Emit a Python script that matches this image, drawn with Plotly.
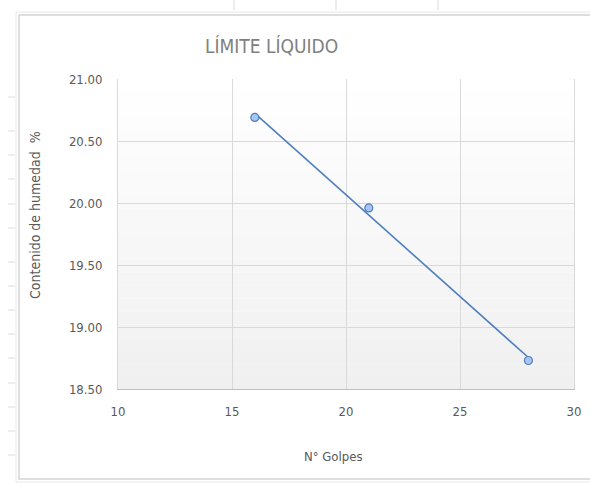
import numpy as np
import plotly.graph_objects as go

# Data
golpes = [16, 21, 28]
humedad = [20.69, 19.96, 18.73]

title_text = "LÍMITE LÍQUIDO"
x_title = "N° Golpes"
y_title = "Contenido de humedad  %"
x_ticks = [10, 15, 20, 25, 30]
y_ticks = [18.5, 19.0, 19.5, 20.0, 20.5, 21.0]

FONT = "Liberation Sans Narrow, DejaVu Sans Condensed, Arial Narrow, sans-serif"

W, H = 590, 486
L, R, T, B = 118, 16, 79, 97
PW, PH = W - L - R, H - T - B


def px(xp):
    return (xp - L) / PW


def py(yp):
    return (H - B - yp) / PH


# Linear trend line derived from the data
slope, intercept = np.polyfit(golpes, humedad, 1)
trend_x = [min(golpes), max(golpes)]
trend_y = [slope * v + intercept for v in trend_x]

fig = go.Figure()
fig.add_trace(go.Scatter(
    x=trend_x, y=trend_y, mode="lines",
    line=dict(color="#4f7fbf", width=1.6),
    hoverinfo="skip", showlegend=False,
))
fig.add_trace(go.Scatter(
    x=golpes, y=humedad, mode="markers",
    marker=dict(size=8, color="#a9c6f0", line=dict(color="#4f7fbf", width=1.2)),
    showlegend=False,
))

# Subtle vertical gradient in the plot area (white -> light gray)
shapes = []
n = 24
for i in range(n):
    t = i / (n - 1)
    c = int(round(255 - t * 15))
    shapes.append(dict(
        type="rect", xref="x domain", yref="y domain",
        x0=0, x1=1, y0=1 - (i + 1) / n, y1=1 - i / n,
        fillcolor=f"rgb({c},{c},{c})", line=dict(width=0), layer="below",
    ))

# Chart area border (Excel style)
shapes.append(dict(type="rect", xref="paper", yref="paper",
                   x0=px(19), x1=px(600), y0=py(479), y1=py(15),
                   line=dict(color="#d4d4d4", width=1.5), fillcolor="rgba(0,0,0,0)", layer="below"))
shapes.append(dict(type="rect", xref="paper", yref="paper",
                   x0=px(16), x1=px(603), y0=py(482), y1=py(12),
                   line=dict(color="#e8e8e8", width=1), fillcolor="rgba(0,0,0,0)", layer="below"))
# Spreadsheet grid lines peeking out around the chart
for xv in [234, 336, 438]:
    shapes.append(dict(type="line", xref="paper", yref="paper",
                       x0=px(xv), x1=px(xv), y0=py(0), y1=py(10),
                       line=dict(color="#d9d9d9", width=1)))
for yv in [97, 131, 155, 179, 204, 228, 262, 286, 310, 334, 358, 383, 407, 431, 455]:
    shapes.append(dict(type="line", xref="paper", yref="paper",
                       x0=px(8), x1=px(15), y0=py(yv), y1=py(yv),
                       line=dict(color="#dcdcdc", width=1)))

annotations = [
    dict(text=title_text, x=px(271), y=py(46), xref="paper", yref="paper",
         showarrow=False, font=dict(family=FONT, size=19, color="#7f7f7f"),
         xanchor="center", yanchor="middle"),
    dict(text=x_title, x=px(333), y=py(457), xref="paper", yref="paper",
         showarrow=False, font=dict(family=FONT, size=13, color="#595959"),
         xanchor="center", yanchor="middle"),
    dict(text=y_title, x=px(35), y=py(215), xref="paper", yref="paper",
         showarrow=False, textangle=-90, font=dict(family=FONT, size=14, color="#595959"),
         xanchor="center", yanchor="middle"),
]

fig.update_layout(
    width=W, height=H,
    margin=dict(l=L, r=R, t=T, b=B, autoexpand=False),
    paper_bgcolor="white", plot_bgcolor="white",
    font=dict(family=FONT, size=13, color="#595959"),
    shapes=shapes, annotations=annotations,
    showlegend=False,
)
fig.update_xaxes(
    range=[10, 30], tickvals=x_ticks, ticktext=[str(v) for v in x_ticks],
    showgrid=True, gridcolor="#d9d9d9", gridwidth=1,
    showline=True, linecolor="#bfbfbf", linewidth=1, mirror=False,
    zeroline=False, ticks="", ticklabelstandoff=10,
    tickfont=dict(family=FONT, size=13, color="#595959"),
)
fig.update_yaxes(
    range=[18.5, 21.0], tickvals=y_ticks, tickformat=".2f",
    showgrid=True, gridcolor="#d9d9d9", gridwidth=1,
    showline=True, linecolor="#d9d9d9", linewidth=1, mirror=True,
    zeroline=False, ticks="", ticklabelstandoff=12,
    tickfont=dict(family=FONT, size=13, color="#595959"),
)

fig.write_html(
    "out.html",
    config={"displayModeBar": False},
    post_script="document.body.style.margin='0';document.body.style.padding='0';",
)
